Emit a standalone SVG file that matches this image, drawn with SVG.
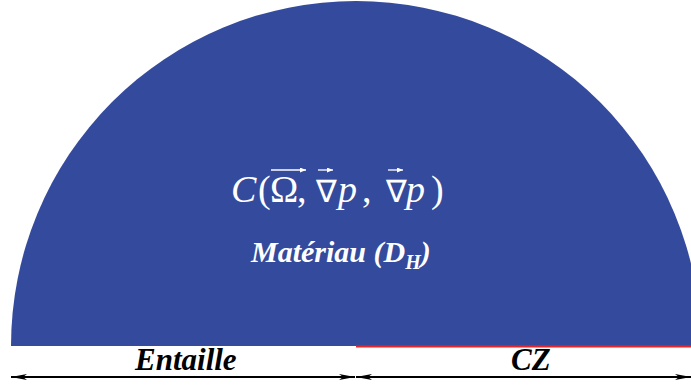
<svg xmlns="http://www.w3.org/2000/svg" width="691" height="385" viewBox="0 0 691 385">
<style>
.w{fill:#fff}
.vec{stroke:#fff;stroke-width:1.3;fill:none}
</style>
<defs>
<marker id="ah" markerWidth="16" markerHeight="8" refX="16" refY="4" orient="auto-start-reverse" markerUnits="userSpaceOnUse">
<path d="M0,1 L16,4 L0,7 L4,4 Z" fill="#000"/>
</marker>
<marker id="va" markerWidth="6" markerHeight="5" refX="6" refY="2.5" orient="auto" markerUnits="userSpaceOnUse">
<path d="M0,0 L6,2.5 L0,5 Z" fill="#fff"/>
</marker>
</defs>
<g id="materiau">
<path d="M11,346 A345,345 0 0 1 701,346 Z" fill="#344a9d"/>
<line x1="356" y1="346.5" x2="691" y2="346.5" stroke="#e8262a" stroke-width="2"/>
<text class="w" style="font-family:'Liberation Serif',serif;font-style:italic;font-size:38px" x="231" y="202">C</text>
<text class="w" style="font-family:'Liberation Serif',serif;font-size:38px" x="258" y="202">(</text>
<text class="w" style="font-family:'Liberation Serif',serif;font-size:38px" x="270" y="202">Ω</text>
<text class="w" style="font-family:'Liberation Serif',serif;font-size:38px" x="297" y="202">,</text>
<text class="w" style="font-family:'Liberation Serif',serif;font-size:31px" x="316" y="202">∇</text>
<text class="w" style="font-family:'Liberation Serif',serif;font-style:italic;font-size:38px" x="338" y="202">p</text>
<text class="w" style="font-family:'Liberation Serif',serif;font-size:38px" x="362" y="202">,</text>
<text class="w" style="font-family:'Liberation Serif',serif;font-size:31px" x="386" y="202">∇</text>
<text class="w" style="font-family:'Liberation Serif',serif;font-style:italic;font-size:38px" x="406" y="202">p</text>
<text class="w" style="font-family:'Liberation Serif',serif;font-size:38px" x="431" y="202">)</text>
<line class="vec" x1="271" y1="170" x2="306" y2="170" marker-end="url(#va)"/>
<line class="vec" x1="318" y1="170" x2="333" y2="170" marker-end="url(#va)"/>
<line class="vec" x1="388" y1="170" x2="403" y2="170" marker-end="url(#va)"/>
<text class="w" style="font-family:'Liberation Serif',serif;font-weight:bold;font-style:italic;font-size:30px" x="251" y="262">Matériau (D<tspan style="font-size:20px" dy="7">H</tspan><tspan dy="-7">)</tspan></text>
</g>
<g id="connectors">
<line x1="11" y1="377" x2="355" y2="377" stroke="#000" stroke-width="2" marker-start="url(#ah)" marker-end="url(#ah)"/>
<line x1="356" y1="377" x2="691" y2="377" stroke="#000" stroke-width="2" marker-start="url(#ah)" marker-end="url(#ah)"/>
</g>
<g id="labels">
<text style="font-family:'Liberation Serif',serif;font-weight:bold;font-style:italic;font-size:31px" x="135" y="370">Entaille</text>
<text style="font-family:'Liberation Serif',serif;font-weight:bold;font-style:italic;font-size:31px" x="511" y="370">CZ</text>
</g>
</svg>
